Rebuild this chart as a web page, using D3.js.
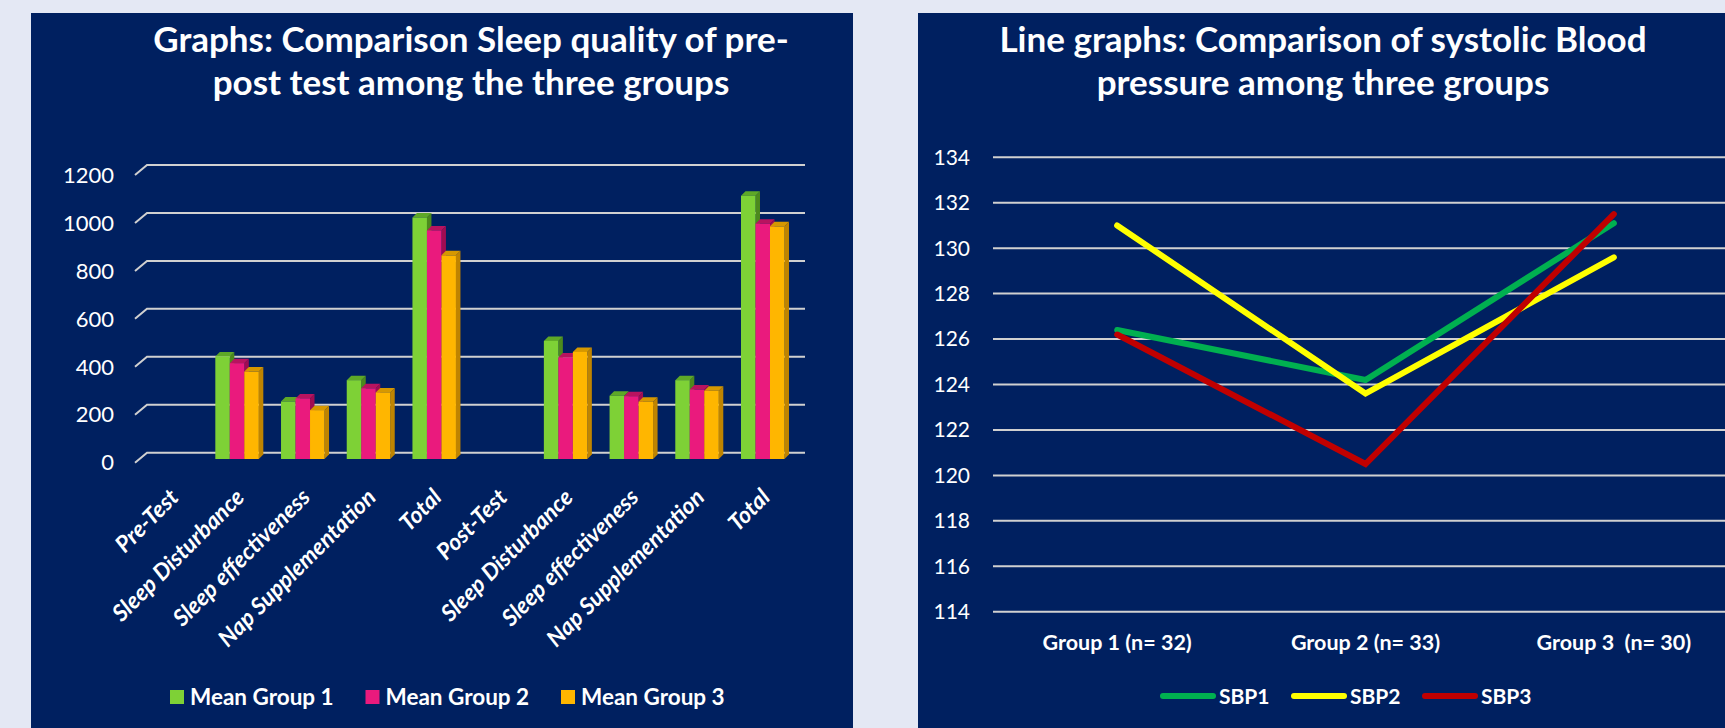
<!DOCTYPE html>
<html lang="en">
<head>
<meta charset="UTF-8">
<title>Sleep quality and systolic blood pressure</title>
<style>
  body { margin: 0; background: #e4e8f4; }
  svg { display: block; font-family: Lato, 'Open Sans', sans-serif; }
  .panel { fill: #002060; }
  text { fill: #ffffff; }
  .grid { stroke: #d0d0d0; stroke-width: 2; fill: none; }
</style>
</head>
<body>
<svg id="chart" width="1725" height="728"></svg>
<script src="https://d3js.org/d3.v7.min.js"></script>
<script>
// left chart data
const sleepCategories = ['Pre-Test', 'Sleep Disturbance', 'Sleep effectiveness', 'Nap Supplementation', 'Total',
  'Post-Test', 'Sleep Disturbance', 'Sleep effectiveness', 'Nap Supplementation', 'Total']
const meanGroup1 = [null, 428, 240, 329, 1008, null, 493, 264, 329, 1099]
const meanGroup2 = [null, 400, 253, 295, 954, null, 424, 262, 290, 982]
const meanGroup3 = [null, 365, 204, 278, 850, null, 447, 239, 285, 971]
const sleepSeries = ['Mean Group 1', 'Mean Group 2', 'Mean Group 3']
const sleepTicks = [0, 200, 400, 600, 800, 1000, 1200]

// right chart data
const bpGroups = ['Group 1 (n= 32)', 'Group 2 (n= 33)', 'Group 3  (n= 30)']
const sbp1 = [126.4, 124.2, 131.1]
const sbp2 = [131.0, 123.6, 129.6]
const sbp3 = [126.2, 120.5, 131.5]
const bpSeries = ['SBP1', 'SBP2', 'SBP3']
const bpTicks = [114, 116, 118, 120, 122, 124, 126, 128, 130, 132, 134]

const svg = d3.select('#chart')

// panels
svg.append('rect').attr('class', 'panel').attr('x', 31).attr('y', 13).attr('width', 822).attr('height', 730)
svg.append('rect').attr('class', 'panel').attr('x', 918).attr('y', 13).attr('width', 820).attr('height', 730)

// ---------- left: 3D column chart ----------
const left = svg.append('g')
left.append('text').attr('x', 471).attr('y', 52).attr('text-anchor', 'middle')
  .style('font-size', '35px').style('font-weight', 700)
  .text('Graphs: Comparison Sleep quality of pre-')
left.append('text').attr('x', 471).attr('y', 95).attr('text-anchor', 'middle')
  .style('font-size', '35px').style('font-weight', 700)
  .text('post test among the three groups')

const yWall = d3.scaleLinear().domain([0, 1200]).range([452.7, 165])
const yBar = d3.scaleLinear().domain([0, 1200]).range([459, 171.5])
const depthX = 12, depthY = 10

// gridlines with a short diagonal for the floor depth
sleepTicks.forEach(t => {
  left.append('path').attr('class', 'grid')
    .attr('d', `M${147 - depthX},${yWall(t) + depthY} L147,${yWall(t)} L805,${yWall(t)}`)
  left.append('text').attr('x', 114).attr('y', yWall(t) + depthY).attr('dy', '0.35em')
    .attr('text-anchor', 'end').style('font-size', '22px').text(t)
})

const x0 = d3.scaleBand().domain(d3.range(sleepCategories.length)).range([138.5, 795.6])
const groupW = 43.5
const x1 = d3.scaleBand().domain(sleepSeries).range([0, groupW])
const groupOff = (x0.bandwidth() - groupW) / 2

const fronts = ['#7ed136', '#ea1a7d', '#ffb600']
const sides = ['#4c8a1c', '#a00c52', '#bf8400']
const tops = ['#5ea827', '#b8135f', '#d69800']
const seriesVals = [meanGroup1, meanGroup2, meanGroup3]
const bdx = 4.5, bdy = 4.5

sleepCategories.forEach((c, i) => {
  sleepSeries.forEach((s, k) => {
    const v = seriesVals[k][i]
    if (v == null) return
    const x = x0(i) + groupOff + x1(s)
    const w = x1.bandwidth()
    const top = yBar(v), bot = yBar(0)
    left.append('path').attr('fill', sides[k])
      .attr('d', `M${x + w},${top} L${x + w + bdx},${top - bdy} L${x + w + bdx},${bot - bdy} L${x + w},${bot} Z`)
    left.append('path').attr('fill', tops[k])
      .attr('d', `M${x},${top} L${x + bdx},${top - bdy} L${x + w + bdx},${top - bdy} L${x + w},${top} Z`)
    left.append('rect').attr('x', x).attr('y', top).attr('width', w).attr('height', bot - top)
      .attr('fill', fronts[k])
  })
})

left.selectAll('.xlab').data(sleepCategories).join('text')
  .attr('class', 'xlab')
  .attr('transform', (d, i) => `translate(${x0(i) + x0.bandwidth() / 2 - 3},${487}) rotate(-45)`)
  .attr('text-anchor', 'end').attr('dy', '0.72em')
  .style('font-size', '23px').style('font-weight', 700).style('font-style', 'italic')
  .text(d => d)

const lgL = left.selectAll('.lgl').data(sleepSeries).join('g')
  .attr('transform', (d, i) => `translate(${170 + i * 195.5},697)`)
lgL.append('rect').attr('x', 0).attr('y', -7).attr('width', 14).attr('height', 14)
  .attr('fill', (d, i) => fronts[i])
lgL.append('text').attr('x', 20).attr('dy', '0.36em')
  .style('font-size', '22.5px').style('font-weight', 700).text(d => d)

// ---------- right: line chart ----------
const right = svg.append('g')
right.append('text').attr('x', 1323).attr('y', 52).attr('text-anchor', 'middle')
  .style('font-size', '35px').style('font-weight', 700)
  .text('Line graphs: Comparison of systolic Blood')
right.append('text').attr('x', 1323).attr('y', 95).attr('text-anchor', 'middle')
  .style('font-size', '35px').style('font-weight', 700)
  .text('pressure among three groups')

const yBp = d3.scaleLinear().domain([114, 134]).range([611.7, 157.3])
const xBp = d3.scalePoint().domain(bpGroups).range([993, 1738]).padding(0.5)

right.selectAll('.bpgrid').data(bpTicks).join('line')
  .attr('class', 'grid')
  .attr('x1', 993).attr('x2', 1725)
  .attr('y1', d => yBp(d)).attr('y2', d => yBp(d))
right.selectAll('.bpy').data(bpTicks).join('text')
  .attr('x', 970).attr('y', d => yBp(d)).attr('dy', '0.35em')
  .attr('text-anchor', 'end').style('font-size', '21px').text(d => d)

right.selectAll('.bpx').data(bpGroups).join('text')
  .attr('x', d => xBp(d)).attr('y', 650).attr('text-anchor', 'middle')
  .style('font-size', '21.5px').style('font-weight', 700).style('white-space', 'pre')
  .text(d => d)

const lineColors = ['#00b050', '#ffff00', '#c00000']
const bpVals = [sbp1, sbp2, sbp3]
const line = d3.line().x((d, i) => xBp(bpGroups[i])).y(d => yBp(d))
bpVals.forEach((vals, k) => {
  right.append('path').attr('d', line(vals))
    .attr('fill', 'none').attr('stroke', lineColors[k]).attr('stroke-width', 6)
    .attr('stroke-linecap', 'round').attr('stroke-linejoin', 'miter')
})

const lgR = right.selectAll('.lgr').data(bpSeries).join('g')
  .attr('transform', (d, i) => `translate(${1161 + i * 131},696)`)
lgR.append('line').attr('x1', 2).attr('x2', 52).attr('y1', 0).attr('y2', 0)
  .attr('stroke', (d, i) => lineColors[i]).attr('stroke-width', 6).attr('stroke-linecap', 'round')
lgR.append('text').attr('x', 58).attr('dy', '0.36em')
  .style('font-size', '21px').style('font-weight', 700).text(d => d)
</script>
</body>
</html>
